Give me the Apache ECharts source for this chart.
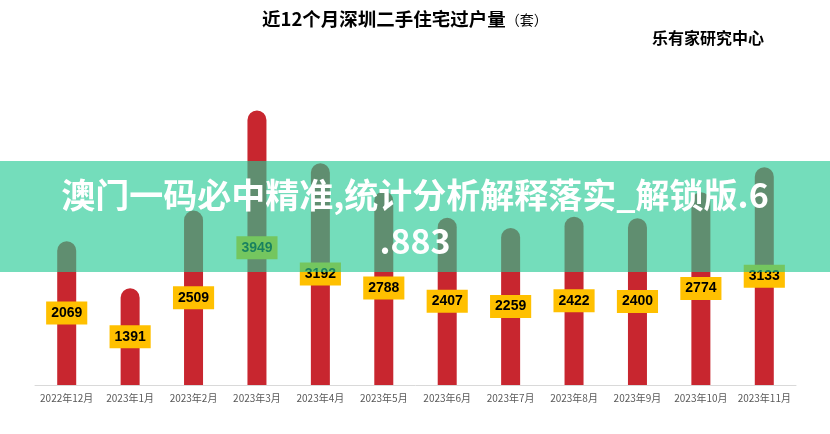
<!DOCTYPE html>
<html>
<head>
<meta charset="utf-8">
<script src="https://cdn.jsdelivr.net/npm/echarts@6/dist/echarts.min.js"></script>
<style>html,body{margin:0;padding:0;background:#fff;}#c{width:830px;height:434px;}</style>
</head>
<body>
<div id="c"></div>
<script>
const categories = ['2022年12月','2023年1月','2023年2月','2023年3月','2023年4月','2023年5月','2023年6月','2023年7月','2023年8月','2023年9月','2023年10月','2023年11月'];
const values = [2069, 1391, 2509, 3949, 3192, 2788, 2407, 2259, 2422, 2400, 2774, 3133];
const titleMain = '近12个月深圳二手住宅过户量';
const titleUnit = '（套）';
const sourceText = '乐有家研究中心';
const bannerText = '澳门一码必中精准,统计分析解释落实_解锁版.6\n.883';

const chart = echarts.init(document.getElementById('c'));
chart.setOption({
  animation: false,
  backgroundColor: '#fff',
  grid: { left: 35, right: 34, top: 107, bottom: 49 },
  xAxis: {
    type: 'category',
    data: categories,
    axisLine: { lineStyle: { color: '#d9d9d9', width: 1 } },
    axisTick: { show: false },
    axisLabel: { interval: 0, color: '#595959', fontSize: 10, margin: 8, fontFamily: 'Noto Sans CJK SC' }
  },
  yAxis: { type: 'value', min: 0, max: 4000, show: false, splitLine: { show: false } },
  series: [{
    type: 'bar',
    data: values,
    barWidth: 19,
    itemStyle: { color: '#C8262F', borderRadius: [9.5, 9.5, 0, 0] },
    label: {
      show: true,
      position: 'inside',
      color: '#000',
      fontWeight: 'bold',
      fontSize: 14,
      fontFamily: 'Liberation Sans',
      backgroundColor: '#FFC000',
      padding: [5, 5, 4, 5]
    }
  }],
  graphic: [
    {
      type: 'text', left: 262, top: 10,
      style: {
        text: '{a|' + titleMain + '}{b|' + titleUnit + '}',
        rich: {
          a: { fontSize: 18.5, fontWeight: 'bold', fill: '#000', fontFamily: 'Noto Sans CJK SC' },
          b: { fontSize: 14, fill: '#000', fontFamily: 'Noto Sans CJK SC' }
        }
      }
    },
    {
      type: 'text', left: 652, top: 30,
      style: { text: sourceText, fontSize: 16, fontWeight: 'bold', fill: '#000', fontFamily: 'Noto Sans CJK SC' }
    },
    {
      type: 'rect', z: 100,
      shape: { x: 0, y: 161, width: 830, height: 111 },
      style: { fill: 'rgba(38,202,149,0.64)' }
    },
    {
      type: 'text', z: 101, x: 415, y: 172,
      style: {
        text: bannerText, fill: '#fff', fontSize: 34, fontWeight: 'bold',
        fontFamily: 'Noto Sans CJK SC', align: 'center', lineHeight: 46
      }
    }
  ]
});
</script>
</body>
</html>
